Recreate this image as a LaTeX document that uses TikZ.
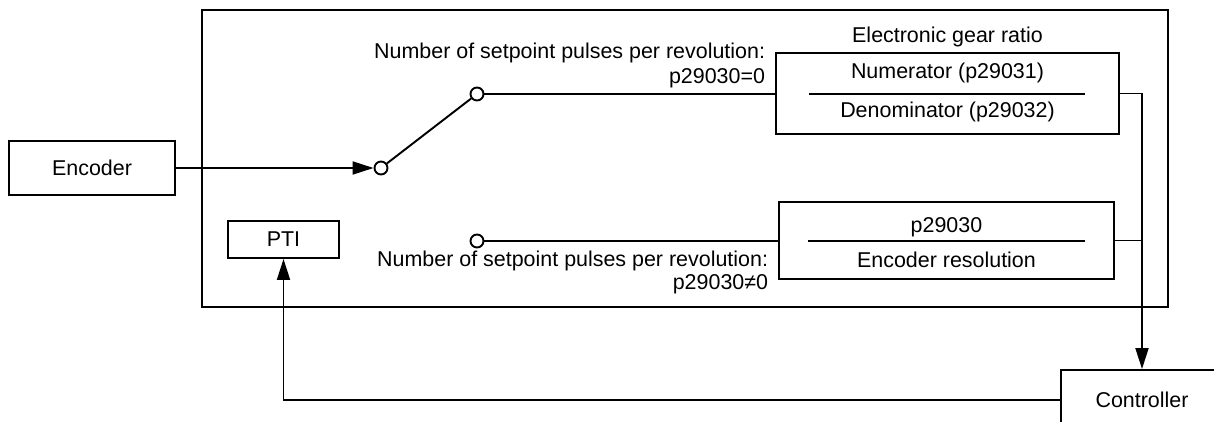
\documentclass[tikz,border=0pt]{standalone}
\usepackage{fontspec}
\setmainfont{Liberation Sans}
\usetikzlibrary{arrows.meta}
\begin{document}
\begin{tikzpicture}[x=0.02cm,y=-0.02cm,
  line width=1.1pt,
  every node/.style={font=\fontsize{12.2}{14}\selectfont, inner sep=0pt},
  blk/.style={draw, rectangle, line width=1.1pt},
  pin/.style={draw, circle, minimum size={13*0.02cm}, line width=1.1pt},
  arr/.style={-{Triangle[length={21*0.02cm}, width={13*0.02cm}]}},
  lbl/.style={align=right, anchor=east}]
\useasboundingbox (0,0) rectangle (1214,422);
\clip (0,0) rectangle (1214,422);
% frame
\coordinate (f1) at (202,10);
\coordinate (f2) at (1168,307);
\draw (f1) rectangle (f2);
% blocks
\node[blk, minimum width={166*0.02cm}, minimum height={54*0.02cm}] (enc) at (92,168) {Encoder};
\node[blk, minimum width={111*0.02cm}, minimum height={37*0.02cm}] (pti) at (283.5,239.5) {PTI};
\node[blk, minimum width={343*0.02cm}, minimum height={81*0.02cm}] (gear) at (947.5,93.5) {};
\node[blk, minimum width={335*0.02cm}, minimum height={77*0.02cm}] (res) at (946.5,240.5) {};
\node[blk, minimum width={162*0.02cm}, minimum height={60*0.02cm}] (ctrl) at (1142,400) {Controller};
% gear box contents
\node (gtitle) at (947.5,37) {Electronic gear ratio};
\node (num) at (947.5,73) {Numerator (p29031)};
\node (den) at (947.5,112) {Denominator (p29032)};
\coordinate (gd1) at (809,94);
\coordinate (gd2) at (1085,94);
\draw (gd1) -- (gd2);
% resolution box contents
\node (rnum) at (946.5,227) {p29030};
\node (rden) at (946.5,260) {Encoder resolution};
\coordinate (rd1) at (808,241);
\coordinate (rd2) at (1085,241);
\draw (rd1) -- (rd2);
% switch
\node[pin] (s0) at (381,168) {};
\node[pin] (s1) at (477,94) {};
\node[pin] (s2) at (477,241) {};
\draw (s0) -- (s1);
\draw[arr] (enc.east) -- (s0.west);
\draw (s1.east) -- (s1.east -| gear.west);
\draw (s2.east) -- (s2.east -| res.west);
% labels
\node[lbl] (l1) at (766,53) {Number of setpoint pulses per revolution:};
\node[lbl] (l2) at (766,78) {p29030=0};
\node[lbl] (l3) at (769,261) {Number of setpoint pulses per revolution:};
\node[lbl] (l4) at (769,284) {p29030≠0};
% outputs
\draw[arr] (gear.east) -| (ctrl.north);
\draw (res.east) -- (res.east -| ctrl.north);
\draw[arr] (ctrl.west) -| (pti.south);
\end{tikzpicture}
\end{document}
